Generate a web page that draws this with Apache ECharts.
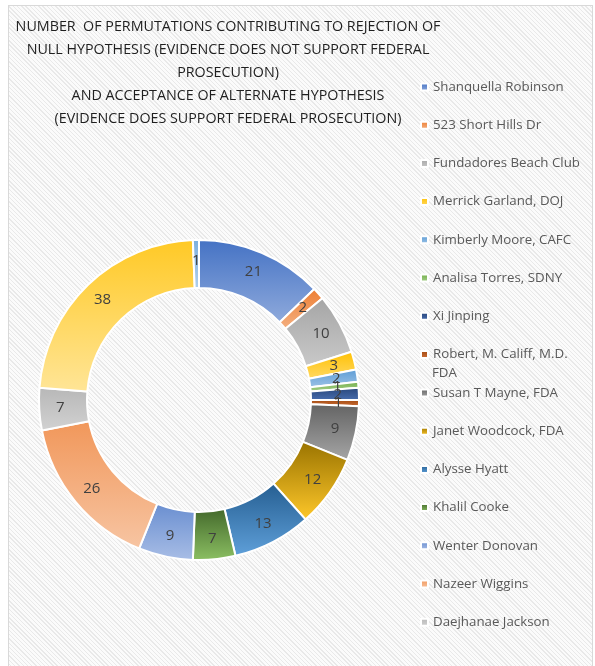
<!DOCTYPE html>
<html>
<head>
<meta charset="utf-8">
<script src="https://cdn.jsdelivr.net/npm/echarts@6/dist/echarts.min.js"></script>
<style>
  html, body { margin: 0; padding: 0; background: #fff; }
  #wrap { position: relative; width: 595px; height: 666px; overflow: hidden; }
  /* hatched chart-area background like the original spreadsheet chart */
  #frame {
    position: absolute; left: 8px; top: 5px; width: 583px; height: 670px;
    border: 1px solid #d9d9d9;
    background: repeating-linear-gradient(45deg, #fbfbfb 0px, #fbfbfb 2px, #e9e9e9 2px, #e9e9e9 3px);
  }
  #main { position: absolute; left: 0; top: 0; width: 595px; height: 666px; }
</style>
</head>
<body>
<div id="wrap">
  <div id="frame"></div>
  <div id="main"></div>
</div>
<script>
// slice names, clockwise from 12 o'clock (the last two are not in the visible legend)
const names = [
  'Shanquella Robinson', '523 Short Hills Dr', 'Fundadores Beach Club', 'Merrick Garland, DOJ',
  'Kimberly Moore, CAFC', 'Analisa Torres, SDNY', 'Xi Jinping', 'Robert, M. Califf, M.D. FDA',
  'Susan T Mayne, FDA', 'Janet Woodcock, FDA', 'Alysse Hyatt', 'Khalil Cooke',
  'Wenter Donovan', 'Nazeer Wiggins', 'Daejhanae Jackson', 'Item 16', 'Item 17'
]
const values = [21, 2, 10, 3, 2, 1, 2, 1, 9, 12, 13, 7, 9, 26, 7, 38, 1]

// legend split in two blocks so the wrapped entry does not push the rest down
const legendTop = names.slice(0, 8)
const legendBottom = names.slice(8, 15)

// top / bottom colours of each slice gradient
const topColors = ['#4472c4', '#ed7d31', '#a5a5a5', '#ffc000', '#5b9bd5', '#70ad47', '#264478', '#9e480e',
  '#636363', '#997300', '#255e91', '#43682b', '#698ed0', '#f1975a', '#b7b7b7', '#ffc925', '#7cafdd']
const bottomColors = ['#8faadc', '#f4b183', '#c9c9c9', '#ffd966', '#9dc3e6', '#a9d18e', '#4a6fb0', '#d0703a',
  '#a6a6a6', '#ffc82a', '#5fa0da', '#8cc063', '#a9bee6', '#f7c5a3', '#d2d2d2', '#ffe597', '#b0cfec']

const chart = echarts.init(document.getElementById('main'), null, { renderer: 'canvas' })

const font = '"Open Sans", sans-serif'

const pieData = names.map((n, i) => ({
  name: n,
  value: values[i],
  itemStyle: {
    color: new echarts.graphic.LinearGradient(0, 0, 0, 1, [
      { offset: 0, color: topColors[i] },
      { offset: 1, color: bottomColors[i] }
    ])
  }
}))

const legendBase = {
  orient: 'vertical',
  left: 420,
  padding: 0,
  icon: 'rect',
  itemWidth: 7,
  itemHeight: 7,
  itemGap: 20.2,
  selectedMode: false,
  textStyle: { color: '#595959', fontSize: 13.3, lineHeight: 18, fontFamily: font }
}

const option = {
  animation: false,
  graphic: [
    {
      type: 'text',
      x: 228,
      y: 15,
      style: {
        text: 'NUMBER  OF PERMUTATIONS CONTRIBUTING TO REJECTION OF\nNULL HYPOTHESIS (EVIDENCE DOES NOT SUPPORT FEDERAL\nPROSECUTION)\nAND ACCEPTANCE OF ALTERNATE HYPOTHESIS\n(EVIDENCE DOES SUPPORT FEDERAL PROSECUTION)',
        textAlign: 'center',
        fill: '#1f1f1f',
        font: '14.3px ' + font,
        lineHeight: 23
      }
    },
    {
      type: 'text',
      x: 432,
      y: 367,
      style: { text: 'FDA', fill: '#595959', font: '13.3px ' + font }
    }
  ],
  legend: [
    Object.assign({}, legendBase, {
      top: 78,
      data: legendTop,
      formatter: n => n.replace(' FDA', '')
    }),
    Object.assign({}, legendBase, { top: 384, data: legendBottom })
  ],
  series: [
    {
      type: 'pie',
      center: [199, 400],
      radius: [112, 160],
      startAngle: 90,
      clockwise: true,
      avoidLabelOverlap: false,
      minShowLabelAngle: 0,
      itemStyle: { borderColor: '#fff', borderWidth: 2 },
      label: {
        show: true,
        position: 'inside',
        formatter: '{c}',
        color: '#404040',
        fontSize: 15,
        fontFamily: font
      },
      labelLayout: { hideOverlap: false },
      labelLine: { show: false },
      emphasis: { disabled: true },
      data: pieData
    }
  ]
}

chart.setOption(option)
</script>
</body>
</html>
